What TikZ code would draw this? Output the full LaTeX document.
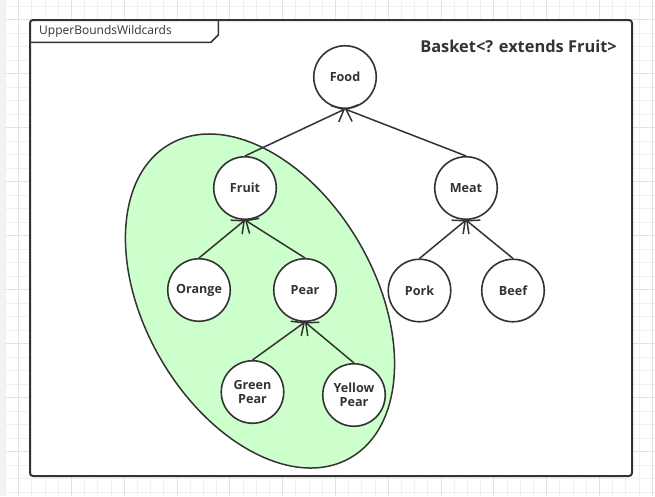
\documentclass[tikz,border=0pt]{standalone}
\usepackage{fontspec}
\setmainfont{Open Sans}
\usetikzlibrary{arrows.meta}
\definecolor{ink}{HTML}{333333}
\definecolor{gminor}{HTML}{F0F0F0}
\definecolor{gmajor}{HTML}{E2E2E2}
\definecolor{zone}{HTML}{CCFFCC}
\definecolor{strip}{HTML}{F2F2F2}
\begin{document}
\begin{tikzpicture}[x=1pt,y=-1pt,
  cnode/.style={circle, draw=ink, fill=white, line width=1.6pt, minimum size=62.5pt,
    inner sep=0pt, font=\fontsize{12.6}{13.5}\selectfont\bfseries, text=ink, align=center},
  link/.style={draw=ink, line width=1.5pt,
    -{Straight Barb[length=10pt,width=18pt,line width=1.5pt]}},
  minorline/.style={draw=gminor, line width=0.8pt},
  majorline/.style={draw=gmajor, line width=0.8pt}]
\useasboundingbox (0,0) rectangle (655,496);
\fill[white] (0,0) rectangle (655,496);
% grid
\foreach \k in {-3,...,46} {\draw[minorline] (45+13.2*\k,0) -- (45+13.2*\k,496);}
\foreach \k in {0,...,36} {\draw[minorline] (0,6+13.5*\k) -- (655,6+13.5*\k);}
\foreach \k in {-2,2,...,46} {\draw[majorline] (45+13.2*\k,0) -- (45+13.2*\k,496);}
\foreach \k in {1,5,...,33} {\draw[majorline] (0,6+13.5*\k) -- (655,6+13.5*\k);}
\fill[strip] (0,0) rectangle (4.5,496);
% frame
\draw[ink, fill=white, line width=2pt, rounded corners=3pt] (30,20) rectangle (632,476);
\draw[ink, line width=1.6pt] (30,42.3) -- (211,42.3) -- (218.3,35) -- (218.3,20);
\node[anchor=west, font=\fontsize{12}{13}\selectfont, text=ink, inner sep=0pt] (tabl) at (39,31) {UpperBoundsWildcards};
\node[anchor=east, font=\fontsize{16.4}{18}\selectfont\bfseries, text=ink, inner sep=0pt] (title) at (617,46) {Basket<? extends Fruit>};
% ellipse zone
\begin{scope}[shift={(260,301)}, rotate=-60]
  \draw[ink, fill=zone, line width=1.5pt] (0,0) ellipse [x radius=181pt, y radius=115pt];
\end{scope}
% nodes
\node[cnode] (food) at (345,77) {Food};
\node[cnode] (fruit) at (245,188) {Fruit};
\node[cnode] (meat) at (466,188) {Meat};
\node[cnode] (orange) at (199,290) {Orange};
\node[cnode] (pear) at (305,290) {Pear};
\node[cnode] (pork) at (419.5,290.5) {Pork};
\node[cnode] (beef) at (513,290.5) {Beef};
\node[cnode] (gpear) at (252.5,392) {Green\\Pear};
\node[cnode] (ypear) at (354,395) {Yellow\\Pear};
% edges
\draw[link] (fruit.north) -- (food.south);
\draw[link] (meat.north) -- (food.south);
\draw[link] (orange.north) -- (fruit.south);
\draw[link] (pear.north) -- (fruit.south);
\draw[link] (pork.north) -- (meat.south);
\draw[link] (beef.north) -- (meat.south);
\draw[link] (gpear.north) -- (pear.south);
\draw[link] (ypear.north) -- (pear.south);
\end{tikzpicture}
\end{document}
